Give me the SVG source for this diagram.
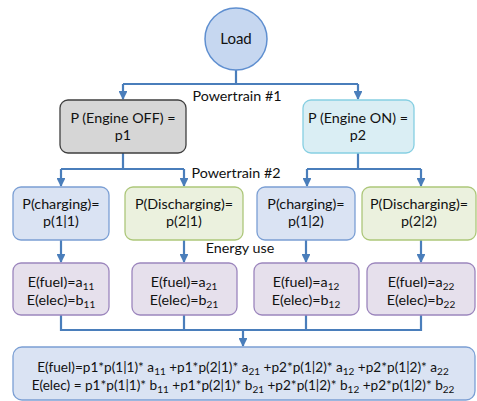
<svg xmlns="http://www.w3.org/2000/svg" width="477" height="401" viewBox="0 0 477 401">
<defs>
<style>
text{font-family:Lato,"Open Sans","Liberation Sans",sans-serif;font-size:14.3px;fill:#111;text-anchor:middle}
.sub{font-size:10px}
.box{stroke-width:1.3}
.blue{fill:#dae3f3;stroke:#7b9fd4}
.green{fill:#ebf1de;stroke:#adc77a}
.purple{fill:#e6e0ec;stroke:#9c86bd}
.con{fill:none;stroke:#4a7ebb;stroke-width:2.2}
.f{font-size:13.6px}
</style>
<marker id="ah" viewBox="0 0 10 10" refX="9" refY="5" markerWidth="4" markerHeight="4" orient="auto">
<path d="M0,0 L10,5 L0,10 z" fill="#4a7ebb"/>
</marker>
</defs>
<rect width="477" height="401" fill="#fff"/>
<g id="connectors">
<path class="con" d="M236,70 V84 M123,84 H358"/>
<path class="con" d="M123,84 V99" marker-end="url(#ah)"/>
<path class="con" d="M358,84 V99" marker-end="url(#ah)"/>
<path class="con" d="M123,153 V169 M61,169 H184"/>
<path class="con" d="M61,169 V186" marker-end="url(#ah)"/>
<path class="con" d="M184,169 V186" marker-end="url(#ah)"/>
<path class="con" d="M358,153 V169 M307,169 H421"/>
<path class="con" d="M307,169 V186" marker-end="url(#ah)"/>
<path class="con" d="M421,169 V186" marker-end="url(#ah)"/>
<path class="con" d="M61,240 V262" marker-end="url(#ah)"/>
<path class="con" d="M184,240 V262" marker-end="url(#ah)"/>
<path class="con" d="M306,240 V262" marker-end="url(#ah)"/>
<path class="con" d="M421,240 V262" marker-end="url(#ah)"/>
<path class="con" d="M61,315 V330 H421 V315 M184,315 V330 M306,315 V330"/>
<path class="con" d="M243,330 V346" marker-end="url(#ah)"/>
<text x="237" y="101">Powertrain #1</text>
<text x="236" y="178">Powertrain #2</text>
<text x="240" y="253">Energy use</text>
</g>
<g id="load">
<circle cx="236" cy="39" r="31" fill="#c6d7f0" stroke="#5f8fd0" stroke-width="1.5"/>
<text x="236" y="44" style="font-size:15px">Load</text>
</g>
<g id="engine-off">
<rect x="60" y="100" width="126" height="53" rx="8" fill="#d6d6d6" stroke="#3f3f3f" stroke-width="1.3"/>
<text x="123" y="123">P (Engine OFF) =</text>
<text x="123" y="140">p1</text>
</g>
<g id="engine-on">
<rect x="303" y="100" width="111" height="53" rx="8" fill="#daeef4" stroke="#86cfe2" stroke-width="1.3"/>
<text x="358" y="123">P (Engine ON) =</text>
<text x="358" y="140">p2</text>
</g>
<g id="p11">
<rect class="box blue" x="13" y="187" width="96" height="53" rx="8"/>
<text x="61" y="209">P(charging)=</text>
<text x="61" y="226">p(1|1)</text>
</g>
<g id="p21">
<rect class="box green" x="125" y="187" width="118" height="53" rx="8"/>
<text x="184" y="209">P(Discharging)=</text>
<text x="184" y="226">p(2|1)</text>
</g>
<g id="p12">
<rect class="box blue" x="257" y="187" width="98" height="53" rx="8"/>
<text x="306" y="209">P(charging)=</text>
<text x="306" y="226">p(1|2)</text>
</g>
<g id="p22">
<rect class="box green" x="362" y="187" width="114" height="53" rx="8"/>
<text x="419" y="209">P(Discharging)=</text>
<text x="419" y="226">p(2|2)</text>
</g>
<g id="e11">
<rect class="box purple" x="13" y="263" width="96" height="52" rx="8"/>
<text x="61" y="287">E(fuel)=a<tspan class="sub" dy="3">11</tspan></text>
<text x="61" y="305">E(elec)=b<tspan class="sub" dy="3">11</tspan></text>
</g>
<g id="e21">
<rect class="box purple" x="132" y="263" width="105" height="52" rx="8"/>
<text x="184" y="287">E(fuel)=a<tspan class="sub" dy="3">21</tspan></text>
<text x="184" y="305">E(elec)=b<tspan class="sub" dy="3">21</tspan></text>
</g>
<g id="e12">
<rect class="box purple" x="254" y="263" width="105" height="52" rx="8"/>
<text x="306" y="287">E(fuel)=a<tspan class="sub" dy="3">12</tspan></text>
<text x="306" y="305">E(elec)=b<tspan class="sub" dy="3">12</tspan></text>
</g>
<g id="e22">
<rect class="box purple" x="367" y="263" width="108" height="52" rx="8"/>
<text x="421" y="287">E(fuel)=a<tspan class="sub" dy="3">22</tspan></text>
<text x="421" y="305">E(elec)=b<tspan class="sub" dy="3">22</tspan></text>
</g>
<g id="total">
<rect class="box blue" x="13" y="347" width="462" height="53" rx="9"/>
<text class="f" x="243" y="372">E(fuel)=p1*p(1|1)* a<tspan class="sub" dy="3">11</tspan><tspan dy="-3"> +p1*p(2|1)* a</tspan><tspan class="sub" dy="3">21</tspan><tspan dy="-3"> +p2*p(1|2)* a</tspan><tspan class="sub" dy="3">12</tspan><tspan dy="-3"> +p2*p(1|2)* a</tspan><tspan class="sub" dy="3">22</tspan></text>
<text class="f" x="243" y="390">E(elec) = p1*p(1|1)* b<tspan class="sub" dy="3">11</tspan><tspan dy="-3"> +p1*p(2|1)* b</tspan><tspan class="sub" dy="3">21</tspan><tspan dy="-3"> +p2*p(1|2)* b</tspan><tspan class="sub" dy="3">12</tspan><tspan dy="-3"> +p2*p(1|2)* b</tspan><tspan class="sub" dy="3">22</tspan></text>
</g>
</svg>
